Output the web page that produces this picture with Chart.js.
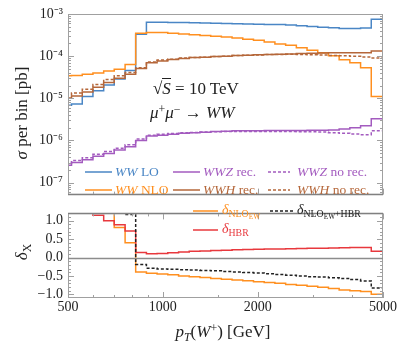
<!DOCTYPE html>
<html>
<head>
<meta charset="utf-8">
<script src="https://cdn.jsdelivr.net/npm/chart.js@4.4.0/dist/chart.umd.min.js"></script>
<style>
  body { margin: 0; background: #fff; }
  #caja { position: relative; width: 399px; height: 354px; font-family: "Liberation Serif", serif; color: #222; overflow: hidden; }
  canvas { position: absolute; left: 0; }
  .t { position: absolute; white-space: nowrap; line-height: 16px; }
  .it { font-style: italic; }
  .sub { font-size: 70%; position: relative; top: 0.3em; }
  .sub2 { font-size: 75%; position: relative; top: 0.25em; }
  .sup { font-size: 70%; position: relative; top: -0.45em; }
  .rot { transform: translate(-50%, -50%) rotate(-90deg); }
  svg.muestra { position: absolute; overflow: visible; }
</style>
</head>
<body>
<div id="caja">
  <canvas id="arriba" width="399" height="208" style="top:0"></canvas>
  <canvas id="abajo" width="399" height="154" style="top:200px"></canvas>

  <!-- titulos de ejes -->
  <div class="t rot" style="left:22px; top:113px; font-size:17px;"><span class="it">σ</span> per bin [pb]</div>
  <div class="t rot" style="left:22px; top:252px; font-size:17px;"><span class="it">δ</span><span class="sub">X</span></div>
  <div class="t" style="left:223px; top:324px; font-size:17px; transform:translateX(-50%);"><span class="it">p</span><span class="sub it">T</span>(<span class="it">W</span><span class="sup">+</span>) [GeV]</div>

  <!-- anotaciones -->
  <div class="t" style="left:153px; top:81px; font-size:17px;">√<span class="it" style="border-top:1px solid #222;">S</span> = 10 TeV</div>
  <div class="t" style="left:150px; top:105px; font-size:17px;"><span class="it">μ</span><span class="sup">+</span><span class="it">μ</span><span class="sup">−</span> → <span class="it">WW</span></div>

  <!-- leyenda panel superior -->
  <svg class="muestra" style="left:85px; top:172px;" width="27" height="1"><line x1="0" y1="0" x2="27" y2="0" stroke="#4a86c5" stroke-width="1.5"/></svg>
  <div class="t" style="left:115px; top:164px; font-size:13.5px; color:#4a86c5;"><span class="it">WW</span> LO</div>
  <svg class="muestra" style="left:173px; top:172px;" width="27" height="1"><line x1="0" y1="0" x2="27" y2="0" stroke="#a35bbf" stroke-width="1.5"/></svg>
  <div class="t" style="left:203px; top:164px; font-size:13.5px; color:#a35bbf;"><span class="it">WWZ</span> rec.</div>
  <svg class="muestra" style="left:268px; top:172px;" width="22" height="1"><line x1="0" y1="0" x2="22" y2="0" stroke="#a35bbf" stroke-width="1.5" stroke-dasharray="3 2"/></svg>
  <div class="t" style="left:297px; top:164px; font-size:13.5px; color:#a35bbf;"><span class="it">WWZ</span> no rec.</div>

  <svg class="muestra" style="left:85px; top:190px;" width="27" height="1"><line x1="0" y1="0" x2="27" y2="0" stroke="#ff8f1f" stroke-width="1.5"/></svg>
  <div class="t" style="left:115px; top:182px; font-size:13.5px; color:#ff8f1f;"><span class="it">WW</span> NLO</div>
  <svg class="muestra" style="left:173px; top:190px;" width="27" height="1"><line x1="0" y1="0" x2="27" y2="0" stroke="#b5673a" stroke-width="1.5"/></svg>
  <div class="t" style="left:203px; top:182px; font-size:13.5px; color:#b5673a;"><span class="it">WWH</span> rec.</div>
  <svg class="muestra" style="left:268px; top:190px;" width="22" height="1"><line x1="0" y1="0" x2="22" y2="0" stroke="#b5673a" stroke-width="1.5" stroke-dasharray="3 2"/></svg>
  <div class="t" style="left:297px; top:182px; font-size:13.5px; color:#b5673a;"><span class="it">WWH</span> no rec.</div>

  <!-- leyenda panel inferior -->
  <svg class="muestra" style="left:193px; top:211px;" width="25" height="1"><line x1="0" y1="0" x2="25" y2="0" stroke="#ff8f1f" stroke-width="1.5"/></svg>
  <div class="t" style="left:222px; top:202px; font-size:14px; color:#ff8f1f;"><span class="it">δ</span><span class="sub">NLO<span class="sub2">EW</span></span></div>
  <svg class="muestra" style="left:270px; top:211px;" width="23" height="1"><line x1="0" y1="0" x2="23" y2="0" stroke="#222" stroke-width="1.5" stroke-dasharray="3 2"/></svg>
  <div class="t" style="left:297px; top:202px; font-size:14px; color:#222;"><span class="it">δ</span><span class="sub">NLO<span class="sub2">EW</span>+HBR</span></div>
  <svg class="muestra" style="left:193px; top:230px;" width="25" height="1"><line x1="0" y1="0" x2="25" y2="0" stroke="#e8383d" stroke-width="1.5"/></svg>
  <div class="t" style="left:222px; top:221px; font-size:14px; color:#e8383d;"><span class="it">δ</span><span class="sub">HBR</span></div>
</div>

<script>
// bordes de los bins en GeV (el primero queda fuera del eje)
const binEdges = [475, 513, 555, 600, 649, 701, 759, 820, 887, 959, 1037, 1122, 1213, 1312, 1419,
  1534, 1659, 1794, 1940, 2098, 2269, 2454, 2654, 2870, 3103, 3356, 3629, 3924, 4244, 4589, 5000];

// sigma por bin [pb]
const wwLO = [6.8e-6, 7.3e-6, 1.11e-5, 1.52e-5, 2.08e-5, 2.89e-5, 4.56e-5, 3.33e-4, 6.4e-4, 6.35e-4,
  6.3e-4, 6.25e-4, 6.2e-4, 6.15e-4, 6.05e-4, 5.95e-4, 5.85e-4, 5.8e-4, 5.7e-4, 5.65e-4,
  5.6e-4, 5.5e-4, 5.25e-4, 5.05e-4, 4.85e-4, 4.7e-4, 4.5e-4, 4.5e-4, 4.65e-4, 7.5e-4];
const wwNLO = [3.42e-5, 3.46e-5, 3.7e-5, 4.0e-5, 4.44e-5, 4.89e-5, 6.34e-5, 3.5e-4, 3.65e-4, 3.62e-4,
  3.51e-4, 3.36e-4, 3.24e-4, 3.08e-4, 2.95e-4, 2.85e-4, 2.7e-4, 2.52e-4, 2.37e-4, 2.16e-4,
  1.95e-4, 1.81e-4, 1.58e-4, 1.39e-4, 1.21e-4, 1.02e-4, 8.24e-5, 6.93e-5, 5.34e-5, 1.11e-5];
const wwzRec = [2.57e-7, 3.0e-7, 3.51e-7, 4.21e-7, 4.93e-7, 5.93e-7, 7.12e-7, 1.0e-6, 1.27e-6, 1.33e-6,
  1.41e-6, 1.48e-6, 1.52e-6, 1.56e-6, 1.64e-6, 1.66e-6, 1.69e-6, 1.69e-6, 1.71e-6, 1.72e-6,
  1.73e-6, 1.73e-6, 1.73e-6, 1.75e-6, 1.75e-6, 1.78e-6, 1.87e-6, 2.0e-6, 2.23e-6, 3.28e-6];
const wwzNoRec = [2.85e-7, 3.33e-7, 3.9e-7, 4.68e-7, 5.48e-7, 6.58e-7, 7.91e-7, 1.08e-6, 1.33e-6, 1.41e-6,
  1.47e-6, 1.52e-6, 1.55e-6, 1.58e-6, 1.62e-6, 1.64e-6, 1.64e-6, 1.64e-6, 1.64e-6, 1.64e-6,
  1.64e-6, 1.63e-6, 1.62e-6, 1.6e-6, 1.58e-6, 1.53e-6, 1.48e-6, 1.42e-6, 1.37e-6, 1.69e-6];
const wwhRec = [1.02e-5, 1.14e-5, 1.41e-5, 1.82e-5, 2.37e-5, 3.0e-5, 3.7e-5, 5.07e-5, 6.93e-5, 7.69e-5,
  8.32e-5, 8.77e-5, 9.24e-5, 9.39e-5, 9.75e-5, 1.0e-4, 1.03e-4, 1.05e-4, 1.08e-4, 1.1e-4,
  1.11e-4, 1.13e-4, 1.15e-4, 1.17e-4, 1.19e-4, 1.2e-4, 1.21e-4, 1.21e-4, 1.21e-4, 1.32e-4];
const wwhNoRec = [1.2e-5, 1.34e-5, 1.64e-5, 2.14e-5, 2.78e-5, 3.42e-5, 4.12e-5, 5.34e-5, 7.3e-5, 8.1e-5,
  8.5e-5, 9.0e-5, 9.3e-5, 9.45e-5, 9.75e-5, 1.0e-4, 1.03e-4, 1.05e-4, 1.07e-4, 1.09e-4,
  1.1e-4, 1.11e-4, 1.1e-4, 1.08e-4, 1.07e-4, 1.04e-4, 1.02e-4, 9.9e-5, 9.5e-5, 9.0e-5];

// correcciones relativas (panel de abajo)
const deltaNLO = [3.0, 2.5, 2.0, 1.6, 1.3, 0.82, 0.4, -0.39, -0.43, -0.45,
  -0.47, -0.5, -0.52, -0.54, -0.57, -0.59, -0.61, -0.63, -0.66, -0.68,
  -0.7, -0.73, -0.75, -0.78, -0.81, -0.84, -0.88, -0.9, -0.92, -1.0];
const deltaHBR = [1.6, 1.45, 1.3, 1.15, 1.0, 0.89, 0.72, 0.14, 0.1, 0.11,
  0.13, 0.15, 0.17, 0.18, 0.19, 0.2, 0.21, 0.22, 0.225, 0.23,
  0.235, 0.24, 0.245, 0.25, 0.255, 0.26, 0.265, 0.27, 0.27, 0.17];
const deltaNLOHBR = [3.5, 3.0, 2.5, 2.0, 1.6, 1.3, 1.17, -0.19, -0.29, -0.31,
  -0.32, -0.33, -0.34, -0.35, -0.36, -0.38, -0.39, -0.41, -0.42, -0.44,
  -0.46, -0.48, -0.5, -0.52, -0.53, -0.55, -0.57, -0.6, -0.64, -0.83];

// ticks
const topTicks = [1e-7, 1e-6, 1e-5, 1e-4, 1e-3];
const topTickLabels = ['10⁻⁷', '10⁻⁶', '10⁻⁵', '10⁻⁴', '10⁻³'];
const botTicks = [-1, -0.5, 0, 0.5, 1];
const botTickLabels = ['−1.0', '−0.5', '0.0', '0.5', '1.0'];
const xTicks = [500, 1000, 2000, 5000];
const xTickLabels = ['500', '1000', '2000', '5000'];
const xMinor = [600, 700, 800, 900, 1500, 3000, 4000];

const fuente = { family: 'Liberation Serif', size: 14 };

function histo(vals) {
  const pts = vals.map((v, i) => ({ x: binEdges[i], y: v }));
  pts.push({ x: binEdges[vals.length], y: vals[vals.length - 1] });
  return pts;
}

function serie(vals, color, dashed) {
  return {
    data: histo(vals),
    borderColor: color,
    borderWidth: 1.5,
    borderDash: dashed ? [3, 2] : [],
    stepped: 'before',
    pointRadius: 0,
    fill: false
  };
}

// marco gris con ticks hacia adentro
const marco = {
  id: 'marco',
  afterDatasetsDraw(chart, args, opts) {
    const { ctx, chartArea: a, scales } = chart;
    const x = scales.x, y = scales.y;
    ctx.save();
    ctx.strokeStyle = '#a0a0a0';
    ctx.lineWidth = 1;
    ctx.beginPath();
    const tick = (px, py, dx, dy) => { ctx.moveTo(px, py); ctx.lineTo(px + dx, py + dy); };
    xTicks.forEach(v => {
      const px = Math.round(x.getPixelForValue(v)) + 0.5;
      tick(px, a.bottom, 0, -6);
      if (opts.topTicks) tick(px, a.top, 0, 6);
    });
    xMinor.forEach(v => {
      const px = Math.round(x.getPixelForValue(v)) + 0.5;
      tick(px, a.bottom, 0, -3);
      if (opts.topTicks) tick(px, a.top, 0, 3);
    });
    opts.yMajor.forEach(v => {
      const py = Math.round(y.getPixelForValue(v)) + 0.5;
      tick(a.left, py, 6, 0); tick(a.right, py, -6, 0);
    });
    opts.yMinor.forEach(v => {
      const py = Math.round(y.getPixelForValue(v)) + 0.5;
      if (py <= a.top || py >= a.bottom) return;
      tick(a.left, py, 3, 0); tick(a.right, py, -3, 0);
    });
    ctx.stroke();
    ctx.strokeRect(a.left + 0.5, a.top + 0.5, a.right - a.left - 1, a.bottom - a.top - 1);
    if (opts.cero) {
      const p0 = Math.round(y.getPixelForValue(0)) + 0.5;
      ctx.strokeStyle = '#8c8c8c';
      ctx.lineWidth = 1.3;
      ctx.beginPath(); ctx.moveTo(a.left, p0); ctx.lineTo(a.right, p0); ctx.stroke();
    }
    // linea de separacion entre paneles
    ctx.strokeStyle = '#808080';
    ctx.lineWidth = 1.3;
    ctx.beginPath();
    const ps = opts.sepArriba ? a.top : a.bottom;
    ctx.moveTo(a.left, ps); ctx.lineTo(a.right, ps);
    ctx.stroke();
    ctx.restore();
  }
};

const minorTop = [];
[-8, -7, -6, -5, -4].forEach(d => {
  [2, 3, 4, 5, 6, 7, 8, 9].forEach(m => minorTop.push(m * Math.pow(10, d)));
});
const minorBot = [-1.1, -0.9, -0.8, -0.7, -0.6, -0.4, -0.3, -0.2, -0.1, 0.1, 0.2, 0.3, 0.4, 0.6, 0.7, 0.8, 0.9, 1.1];

new Chart(document.getElementById('arriba'), {
  type: 'line',
  data: {
    datasets: [
      serie(wwhNoRec, '#b5673a', true),
      serie(wwzNoRec, '#a35bbf', true),
      serie(wwzRec, '#a35bbf', false),
      serie(wwhRec, '#b5673a', false),
      serie(wwNLO, '#ff8f1f', false),
      serie(wwLO, '#4a86c5', false)
    ]
  },
  options: {
    responsive: false,
    animation: false,
    layout: { padding: { top: 14, right: 16, bottom: 4, left: 0 } },
    plugins: {
      legend: { display: false },
      tooltip: { enabled: false },
      marco: { yMajor: topTicks, yMinor: minorTop, topTicks: false, cero: false, sepArriba: false }
    },
    scales: {
      x: { type: 'logarithmic', min: 500, max: 5000, display: false },
      y: {
        type: 'logarithmic', min: 5.2e-8, max: 1e-3,
        afterFit: s => { s.width = 68; },
        afterBuildTicks: s => { s.ticks = topTicks.map(v => ({ value: v })); },
        ticks: { callback: (v, i) => topTickLabels[i], font: fuente, color: '#222', padding: 5 },
        grid: { display: false, drawTicks: false },
        border: { display: false }
      }
    }
  },
  plugins: [marco]
});

new Chart(document.getElementById('abajo'), {
  type: 'line',
  data: {
    datasets: [
      serie(deltaNLOHBR, '#222222', true),
      serie(deltaHBR, '#e8383d', false),
      serie(deltaNLO, '#ff8f1f', false)
    ]
  },
  options: {
    responsive: false,
    animation: false,
    layout: { padding: { top: 4, right: 16, bottom: 0, left: 0 } },
    plugins: {
      legend: { display: false },
      tooltip: { enabled: false },
      marco: { yMajor: botTicks, yMinor: minorBot, topTicks: true, cero: true, sepArriba: true }
    },
    scales: {
      x: {
        type: 'logarithmic', min: 500, max: 5000,
        afterFit: s => { s.height = 56; },
        afterBuildTicks: s => { s.ticks = xTicks.map(v => ({ value: v })); },
        ticks: { callback: (v, i) => xTickLabels[i], font: fuente, color: '#222', padding: 1, maxRotation: 0, autoSkip: false },
        grid: { display: false, drawTicks: false },
        border: { display: false }
      },
      y: {
        min: -1.1, max: 1.2,
        afterFit: s => { s.width = 68; },
        afterBuildTicks: s => { s.ticks = botTicks.map(v => ({ value: v })); },
        ticks: { callback: (v, i) => botTickLabels[i], font: fuente, color: '#222', padding: 5 },
        grid: { display: false, drawTicks: false },
        border: { display: false }
      }
    }
  },
  plugins: [marco]
});
</script>
</body>
</html>
